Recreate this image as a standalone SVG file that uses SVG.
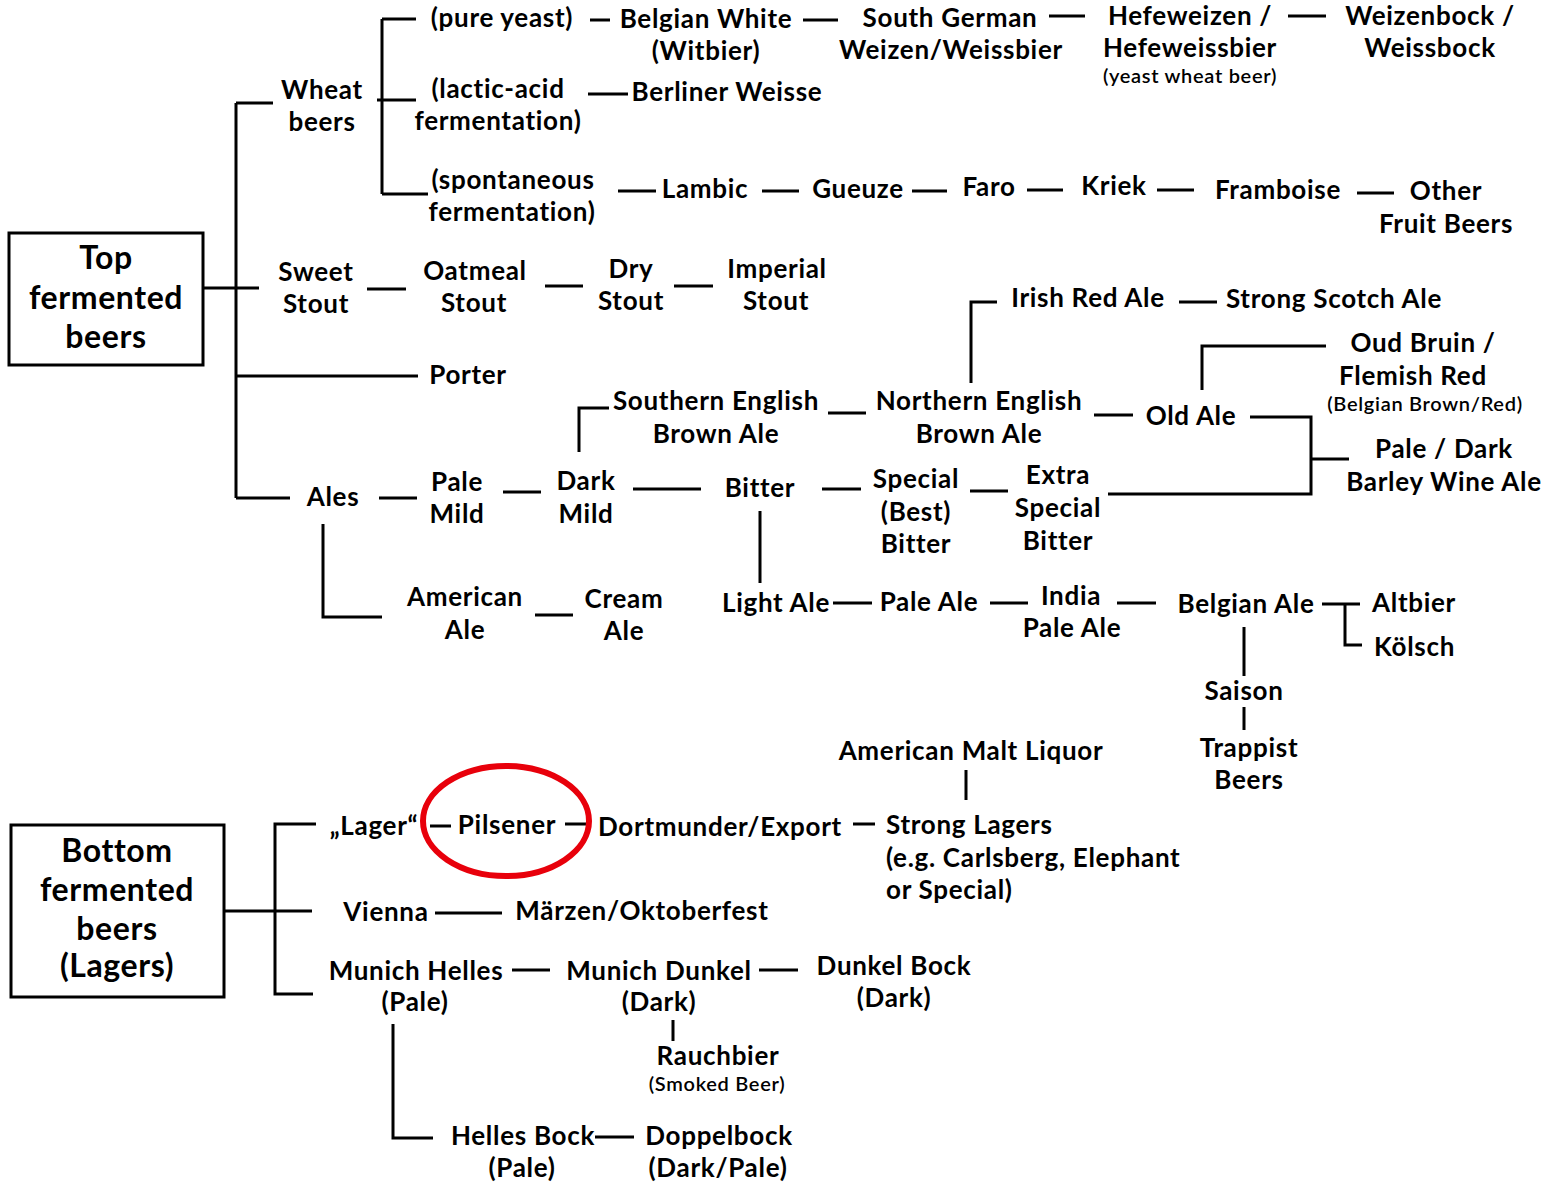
<svg xmlns="http://www.w3.org/2000/svg" width="1542" height="1185" viewBox="0 0 1542 1185">
<style>
text{font-family:Lato,"Liberation Sans",sans-serif;font-weight:700;font-size:26px;letter-spacing:0.7px;fill:#000;text-anchor:middle}
.l{text-anchor:start}
.s{font-size:20px;font-weight:600;letter-spacing:0.7px}
.b{font-size:32px;letter-spacing:0.6px}
.c path{fill:none;stroke:#000;stroke-width:3}
.box{fill:#fff;stroke:#000;stroke-width:3}
</style>
<rect width="1542" height="1185" fill="#fff"/>
<g class="c" id="connectors">
<path d="M236,103V498M236,103H273M203,288H259M236,376H418M236,498H290"/>
<path d="M382,19V194M382,19H416M377,100H416M382,194H428"/>
<path d="M590,20H610M803,20H838M1049,16H1085M1288,16H1326M588,94H628"/>
<path d="M618,191H656M762,191H799M912,191H947M1027,190H1063M1157,190H1194M1357,193H1394"/>
<path d="M367,289H406M545,286H583M674,286H713"/>
<path d="M971,383V302H997M1179,302H1217M1202,390V346H1326"/>
<path d="M579,452V408H609M828,413H866M1094,415H1133"/>
<path d="M1250,417H1311V494H1108M1311,459H1349"/>
<path d="M379,498H417M503,492H541M633,489H701M822,489H861M970,491H1008"/>
<path d="M760,511V583M323,524V617H382M535,615H573"/>
<path d="M833,603H872M990,603H1028M1117,603H1156M1322,604H1360M1345,604V645H1362M1244,627V676M1244,707V730"/>
<path d="M224,911H312M316,824H275V994H313M430,826H451M565,824H587M853,824H875M966,770V800M435,913H502"/>
<path d="M512,970H550M759,970H798M673,1020V1041M393,1024V1138H433M595,1137H634"/>
</g>
<g id="n-top"><rect class="box" x="9" y="233" width="194" height="132"/><text class="b" x="106" y="269">Top</text><text class="b" x="106" y="309">fermented</text><text class="b" x="106" y="348">beers</text></g>
<g id="n-bottom"><rect class="box" x="11" y="825" width="213" height="172"/><text class="b" x="117" y="862">Bottom</text><text class="b" x="117" y="901">fermented</text><text class="b" x="117" y="940">beers</text><text class="b" x="117" y="977">(Lagers)</text></g>
<g id="n-wheat"><text x="322" y="99">Wheat</text><text x="322" y="131">beers</text></g>
<g id="n-pure"><text x="502" y="27">(pure yeast)</text></g>
<g id="n-lactic"><text x="498" y="98">(lactic-acid</text><text x="498" y="130">fermentation)</text></g>
<g id="n-spont"><text x="513" y="189">(spontaneous</text><text x="512" y="221">fermentation)</text></g>
<g id="n-witbier"><text x="706" y="28">Belgian White</text><text x="706" y="60">(Witbier)</text></g>
<g id="n-southgerman"><text x="950" y="27">South German</text><text x="951" y="59">Weizen/Weissbier</text></g>
<g id="n-hefe"><text x="1190" y="25">Hefeweizen /</text><text x="1190" y="57">Hefeweissbier</text><text class="s" x="1190" y="83">(yeast wheat beer)</text></g>
<g id="n-weizenbock"><text x="1430" y="25">Weizenbock /</text><text x="1430" y="57">Weissbock</text></g>
<g id="n-berliner"><text x="727" y="101">Berliner Weisse</text></g>
<g id="n-lambic"><text x="705" y="198">Lambic</text></g>
<g id="n-gueuze"><text x="858" y="198">Gueuze</text></g>
<g id="n-faro"><text x="989" y="196">Faro</text></g>
<g id="n-kriek"><text x="1114" y="195">Kriek</text></g>
<g id="n-framboise"><text x="1278" y="199">Framboise</text></g>
<g id="n-other"><text x="1446" y="200">Other</text><text x="1446" y="233">Fruit Beers</text></g>
<g id="n-sweet"><text x="316" y="281">Sweet</text><text x="316" y="313">Stout</text></g>
<g id="n-oatmeal"><text x="475" y="280">Oatmeal</text><text x="474" y="312">Stout</text></g>
<g id="n-dry"><text x="631" y="278">Dry</text><text x="631" y="310">Stout</text></g>
<g id="n-imperial"><text x="777" y="278">Imperial</text><text x="776" y="310">Stout</text></g>
<g id="n-porter"><text x="468" y="384">Porter</text></g>
<g id="n-irish"><text x="1088" y="307">Irish Red Ale</text></g>
<g id="n-scotch"><text x="1334" y="308">Strong Scotch Ale</text></g>
<g id="n-oud"><text x="1423" y="352">Oud Bruin /</text><text x="1413" y="385">Flemish Red</text><text class="s" x="1425" y="411">(Belgian Brown/Red)</text></g>
<g id="n-southern"><text x="716" y="410">Southern English</text><text x="716" y="443">Brown Ale</text></g>
<g id="n-northern"><text x="979" y="410">Northern English</text><text x="979" y="443">Brown Ale</text></g>
<g id="n-oldale"><text x="1191" y="425">Old Ale</text></g>
<g id="n-barley"><text x="1444" y="458">Pale / Dark</text><text x="1444" y="491">Barley Wine Ale</text></g>
<g id="n-ales"><text x="333" y="506">Ales</text></g>
<g id="n-palemild"><text x="457" y="491">Pale</text><text x="457" y="523">Mild</text></g>
<g id="n-darkmild"><text x="586" y="490">Dark</text><text x="586" y="523">Mild</text></g>
<g id="n-bitter"><text x="760" y="497">Bitter</text></g>
<g id="n-special"><text x="916" y="488">Special</text><text x="916" y="521">(Best)</text><text x="916" y="553">Bitter</text></g>
<g id="n-esb"><text x="1058" y="484">Extra</text><text x="1058" y="517">Special</text><text x="1058" y="550">Bitter</text></g>
<g id="n-american"><text x="465" y="606">American</text><text x="465" y="639">Ale</text></g>
<g id="n-cream"><text x="624" y="608">Cream</text><text x="624" y="640">Ale</text></g>
<g id="n-light"><text x="776" y="612">Light Ale</text></g>
<g id="n-paleale"><text x="929" y="611">Pale Ale</text></g>
<g id="n-ipa"><text x="1071" y="605">India</text><text x="1072" y="637">Pale Ale</text></g>
<g id="n-belgian"><text x="1246" y="613">Belgian Ale</text></g>
<g id="n-altbier"><text class="l" x="1372" y="612">Altbier</text></g>
<g id="n-kolsch"><text class="l" x="1374" y="656">Kölsch</text></g>
<g id="n-saison"><text x="1244" y="700">Saison</text></g>
<g id="n-trappist"><text x="1249" y="757">Trappist</text><text x="1249" y="789">Beers</text></g>
<g id="n-malt"><text x="971" y="760">American Malt Liquor</text></g>
<g id="n-lager"><text x="374" y="835">„Lager“</text></g>
<g id="n-pilsener"><text x="507" y="834">Pilsener</text><ellipse cx="506" cy="821" rx="83" ry="55" fill="none" stroke="#e8000b" stroke-width="6"/></g>
<g id="n-dortmunder"><text x="720" y="836">Dortmunder/Export</text></g>
<g id="n-stronglagers"><text class="l" x="886" y="834">Strong Lagers</text><text class="l" x="886" y="867">(e.g. Carlsberg, Elephant</text><text class="l" x="886" y="899">or Special)</text></g>
<g id="n-vienna"><text x="386" y="921">Vienna</text></g>
<g id="n-marzen"><text x="642" y="920">Märzen/Oktoberfest</text></g>
<g id="n-helles"><text x="416" y="980">Munich Helles</text><text x="415" y="1011">(Pale)</text></g>
<g id="n-dunkel"><text x="659" y="980">Munich Dunkel</text><text x="659" y="1011">(Dark)</text></g>
<g id="n-dunkelbock"><text x="894" y="975">Dunkel Bock</text><text x="894" y="1007">(Dark)</text></g>
<g id="n-rauch"><text x="718" y="1065">Rauchbier</text><text class="s" x="717" y="1091">(Smoked Beer)</text></g>
<g id="n-hellesbock"><text x="523" y="1145">Helles Bock</text><text x="522" y="1177">(Pale)</text></g>
<g id="n-doppel"><text x="719" y="1145">Doppelbock</text><text x="718" y="1177">(Dark/Pale)</text></g>
</svg>
